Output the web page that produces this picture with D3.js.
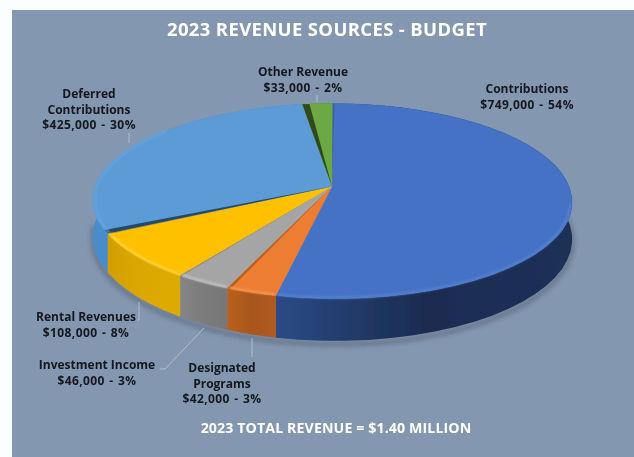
<!DOCTYPE html>
<html>
<head>
<meta charset="utf-8">
<script src="https://cdn.jsdelivr.net/npm/d3@7"></script>
<style>
  html, body { margin: 0; padding: 0; background: #fbfeff; overflow: hidden; }
  svg { display: block; }
  text { font-family: "Open Sans", sans-serif; text-anchor: middle; }
  .lbl { font-size: 12px; font-weight: 700; fill: #14181f; }
  .head { fill: #fff; font-weight: 700; }
</style>
</head>
<body>
<svg id="chart" width="634" height="457"></svg>
<script>
// slices, clockwise from 12 o'clock
const categories = ['Contributions', 'Designated Programs', 'Investment Income', 'Rental Revenues', 'Deferred Contributions', 'Other Revenue'];
const amounts = [749000, 42000, 46000, 108000, 425000, 33000];
const percents = [54, 3, 3, 8, 30, 2];
const titleText = '2023 REVENUE SOURCES - BUDGET';
const totalText = '2023 TOTAL REVENUE = $1.40 MILLION';

const topColors = ['#4472c4', '#ed7d31', '#a5a5a5', '#ffc000', '#5b9bd5', '#6ca945'];
const rimColors = ['#5a86d6', '#ff9d55', '#c8c8c8', '#ffd84d', '#66a6e2', '#84c45c'];
const sideColors = [
  ['#2b4b86', '#1a2c50', '#1c3057'],
  ['#b9621f', '#a9561f', '#b05a20'],
  ['#858585', '#7b7b7b', '#777777'],
  ['#d39f00', '#dca800', '#dcaa00'],
  ['#4a8ccb', '#4a8ccb', '#4a8ccb'],
  ['#4a7a30', '#4a7a30', '#4a7a30'],
];
// dark radial wall of a slice: which edge it sits on, how wide in degrees, colour
const walls = [
  { edge: 'start', deg: 0.5, color: '#3a5fa5' },
  { edge: 'end', deg: 0.8, color: '#b9621f' },
  { edge: 'end', deg: 0.4, color: '#8a8a8a' },
  { edge: 'end', deg: 0.4, color: '#c79400' },
  { edge: 'start', deg: 2.0, color: '#24496e' },
  { edge: 'start', deg: 2.0, color: '#2f4a1c' },
];

const labelLines = [
  ['Contributions'], ['Designated', 'Programs'], ['Investment Income'],
  ['Rental Revenues'], ['Deferred', 'Contributions'], ['Other Revenue'],
];
const labelAnchors = [[527, 93], [222, 372], [97, 369], [86, 321], [89, 98], [303, 76]];
const leaders = [
  null,
  [[252, 338], [252, 357]],
  [[204, 328], [165, 369], [160, 369]],
  [[139, 302], [139, 320], [137, 320]],
  [[129, 133], [129, 143]],
  [[317, 95], [317, 102]],
];

const svg = d3.select('#chart');
const defs = svg.append('defs');
defs.append('filter').attr('id', 'soft').append('feGaussianBlur').attr('stdDeviation', 0.45);
defs.append('filter').attr('id', 'textSoft').append('feGaussianBlur').attr('stdDeviation', 0.25);
defs.append('filter').attr('id', 'rimBlur').append('feGaussianBlur').attr('stdDeviation', 0.8);
defs.append('filter').attr('id', 'shadow')
  .attr('x', '-10%').attr('y', '-10%').attr('width', '120%').attr('height', '130%')
  .append('feGaussianBlur').attr('stdDeviation', 2.5);

svg.append('rect').attr('x', 12).attr('y', 10).attr('width', 622).attr('height', 447).attr('fill', '#8497b0');

// pie tilted in perspective, so the apex is above the middle of the ellipse
const apex = { x: 332, y: 186.5 };
const spreadX = 237, spreadY = 95.4, tilt = 0.149, depth = 36, lean = 3.5;
const project = (angle, r = 1, z = 0) => {
  const u = Math.sin(angle) * r, v = -Math.cos(angle) * r;
  const w = 1 - tilt * v;
  return [apex.x + spreadX * u / w + lean * Math.max(v, 0), apex.y + (spreadY * v + depth * z) / w];
};

const rad = (deg) => deg * Math.PI / 180;
const pie = d3.pie().sort(null).startAngle(rad(0.2)).endAngle(rad(360.2));
const slices = pie(amounts);
const line = d3.line();
const samples = (a0, a1) => d3.range(0, 41).map((i) => a0 + (a1 - a0) * i / 40);

const g = svg.append('g').attr('filter', 'url(#soft)');

// soft shadow under the front of the pie
g.append('path')
  .attr('d', line(samples(rad(85), rad(270)).map((a) => project(a, 1, 1.08))))
  .attr('fill', 'none').attr('stroke', '#3b4658').attr('stroke-width', 4).attr('opacity', 0.5)
  .attr('filter', 'url(#shadow)');

// outer side, back to front
slices.forEach((s, i) => {
  const grad = defs.append('linearGradient').attr('id', `side${i}`);
  sideColors[i].forEach((c, j) => grad.append('stop').attr('offset', j / 2).attr('stop-color', c));
  const pts = samples(s.startAngle, s.endAngle);
  const outline = pts.map((a) => project(a)).concat(pts.slice().reverse().map((a) => project(a, 1, 1)));
  g.append('path').attr('d', line(outline) + 'Z').attr('fill', `url(#side${i})`);
});

// top faces
slices.forEach((s, i) => {
  const rim = samples(s.startAngle, s.endAngle).map((a) => project(a));
  g.append('path')
    .attr('d', line([[apex.x, apex.y], ...rim]) + 'Z')
    .attr('fill', topColors[i])
    .attr('stroke', topColors[i]).attr('stroke-width', 0.3);
});

// radial walls showing between the slices
slices.forEach((s, i) => {
  const w = walls[i];
  const a0 = w.edge === 'start' ? s.startAngle : s.endAngle;
  const a1 = w.edge === 'start' ? a0 + rad(w.deg) : a0 - rad(w.deg);
  g.append('path')
    .attr('d', line([[apex.x, apex.y], project(a0), project(a1)]) + 'Z')
    .attr('fill', w.color);
});

// bevel highlight along the front and left of the rim only
const bevelFrom = rad(100), bevelTo = rad(310);
slices.forEach((s, i) => {
  const a0 = Math.max(s.startAngle, bevelFrom) + rad(0.3);
  const a1 = Math.min(s.endAngle, bevelTo) - rad(0.3);
  if (a1 <= a0) return;
  g.append('path')
    .attr('d', line(samples(a0, a1).map((a) => project(a, 0.992))))
    .attr('fill', 'none').attr('stroke', rimColors[i]).attr('stroke-width', 1.8)
    .attr('filter', 'url(#rimBlur)');
});

// leader lines
leaders.forEach((pts) => {
  if (!pts) return;
  svg.append('path').attr('d', line(pts)).attr('fill', 'none').attr('stroke', '#b4bdc9').attr('stroke-width', 1);
});

const money = d3.format('$,');
const textLayer = svg.append('g').attr('filter', 'url(#textSoft)');
categories.forEach((c, i) => {
  const lines = labelLines[i].concat(`${money(amounts[i])} - ${percents[i]}%`);
  const [x, y] = labelAnchors[i];
  lines.forEach((t, j) => {
    const isValue = j === lines.length - 1;
    textLayer.append('text').attr('class', 'lbl').attr('x', x).attr('y', y + j * 15.6)
      .attr('word-spacing', isValue ? 1 : 0).attr('letter-spacing', isValue ? 0.4 : 0).text(t);
  });
});

textLayer.append('text').attr('class', 'head').attr('x', 327).attr('y', 36)
  .attr('font-size', 18.5).attr('letter-spacing', 0.35).text(titleText);
textLayer.append('text').attr('class', 'head').attr('x', 336).attr('y', 433)
  .attr('font-size', 14.2).attr('letter-spacing', 0.1).text(totalText);
</script>
</body>
</html>
